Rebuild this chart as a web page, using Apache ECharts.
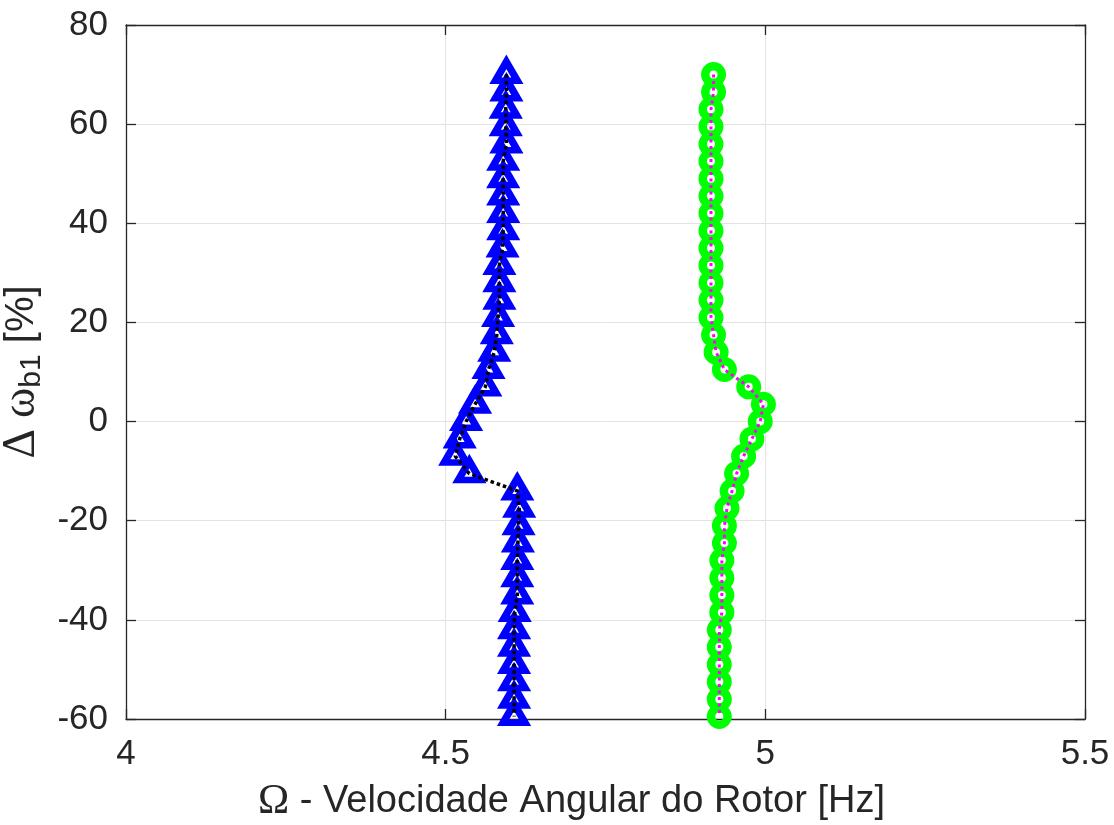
<!DOCTYPE html>
<html>
<head>
<meta charset="utf-8">
<script src="https://cdn.jsdelivr.net/npm/echarts@6/dist/echarts.min.js"></script>
<style>
  html, body { margin: 0; padding: 0; background: #fff; }
  #chart { width: 1114px; height: 825px; }
</style>
</head>
<body>
<div id="chart"></div>
<script>
// Δω_b1 [%] sweep (shared by both curves)
const omegaB1 = [70, 66.5, 63, 59.5, 56, 52.5, 49, 45.5, 42, 38.5, 35, 31.5, 28, 24.5, 21,
  17.5, 14, 10.5, 7, 3.5, 0, -3.5, -7, -10.5, -14, -17.5, -21, -24.5, -28, -31.5, -35,
  -38.5, -42, -45.5, -49, -52.5, -56, -59.5];

// Rotor angular speed [Hz], triangle curve
const rotorSpeedA = [4.595, 4.595, 4.594, 4.594, 4.595, 4.590, 4.590, 4.590, 4.590, 4.590,
  4.589, 4.584, 4.584, 4.584, 4.582, 4.580, 4.576, 4.567, 4.562, 4.546, 4.532, 4.522,
  4.515, 4.537, 4.612, 4.615, 4.614, 4.613, 4.612, 4.612, 4.612, 4.608, 4.607, 4.607,
  4.607, 4.607, 4.607, 4.607];

// Rotor angular speed [Hz], circle curve
const rotorSpeedB = [4.919, 4.919, 4.915, 4.915, 4.915, 4.915, 4.915, 4.915, 4.915, 4.915,
  4.915, 4.915, 4.915, 4.915, 4.915, 4.919, 4.923, 4.936, 4.974, 4.997, 4.992, 4.979,
  4.966, 4.955, 4.948, 4.940, 4.936, 4.936, 4.932, 4.932, 4.932, 4.932, 4.928, 4.928,
  4.928, 4.928, 4.928, 4.928];

const xTickLabels = ['4', '4.5', '5', '5.5'];
const yTickLabels = ['-60', '-40', '-20', '0', '20', '40', '60', '80'];

const xMin = Number(xTickLabels[0]);
const xMax = Number(xTickLabels[xTickLabels.length - 1]);
const xStep = Number(xTickLabels[1]) - xMin;
const yMin = Number(yTickLabels[0]);
const yMax = Number(yTickLabels[yTickLabels.length - 1]);
const yStep = Number(yTickLabels[1]) - yMin;

const pairsA = omegaB1.map((y, i) => [rotorSpeedA[i], y]);
const pairsB = omegaB1.map((y, i) => [rotorSpeedB[i], y]);

const AXIS = '#262626';
const GRID = '#e3e3e3';
const SANS = "'Liberation Sans', Arial, Helvetica, sans-serif";
const SERIF = "'Liberation Serif', 'DejaVu Serif', serif";

const axisLine = { show: true, onZero: false, lineStyle: { color: AXIS, width: 1.3 } };
const axisTick = { show: true, inside: true, length: 10, lineStyle: { color: AXIS, width: 1.3 } };

const chart = echarts.init(document.getElementById('chart'), null, { renderer: 'canvas' });

chart.setOption({
  backgroundColor: '#ffffff',
  animation: false,
  grid: { left: 126, right: 29, top: 25, bottom: 106, containLabel: false, outerBoundsMode: 'none' },
  xAxis: [
    {
      type: 'value', position: 'bottom', min: xMin, max: xMax, interval: xStep,
      axisLine, axisTick,
      axisLabel: { show: true, margin: 18, color: AXIS, fontFamily: SANS, fontSize: 35,
        formatter: v => xTickLabels[Math.round((v - xMin) / xStep)] },
      splitLine: { show: true, lineStyle: { color: GRID, width: 1 } },
      name: '{g|Ω}{n| - Velocidade Angular do Rotor [Hz]}',
      nameLocation: 'middle', nameGap: 62,
      nameTextStyle: {
        color: AXIS, padding: [0, 68, 0, 0],
        rich: {
          g: { fontFamily: SERIF, fontSize: 42, color: AXIS },
          n: { fontFamily: SANS, fontSize: 38, color: AXIS }
        }
      }
    },
    {
      type: 'value', position: 'top', min: xMin, max: xMax, interval: xStep,
      axisLine, axisTick, axisLabel: { show: false }, splitLine: { show: false }
    }
  ],
  yAxis: [
    {
      type: 'value', position: 'left', min: yMin, max: yMax, interval: yStep,
      axisLine, axisTick,
      axisLabel: { show: true, margin: 18, color: AXIS, fontFamily: SANS, fontSize: 35,
        formatter: v => yTickLabels[Math.round((v - yMin) / yStep)] },
      splitLine: { show: true, lineStyle: { color: GRID, width: 1 } },
      name: '{g|Δ}{n| }{g|ω}{s|b1}{n| [%]}',
      nameLocation: 'middle', nameGap: 66, nameRotate: 90,
      nameTextStyle: {
        color: AXIS,
        rich: {
          g: { fontFamily: SERIF, fontSize: 46, lineHeight: 50, color: AXIS },
          n: { fontFamily: SANS, fontSize: 40, lineHeight: 50, color: AXIS },
          s: { fontFamily: SANS, fontSize: 30, lineHeight: 16, verticalAlign: 'bottom', color: AXIS }
        }
      }
    },
    {
      type: 'value', position: 'right', min: yMin, max: yMax, interval: yStep,
      axisLine, axisTick, axisLabel: { show: false }, splitLine: { show: false }
    }
  ],
  series: [
    {
      // open triangles
      type: 'scatter', z: 2, data: pairsA,
      symbol: 'triangle', symbolSize: [22, 19], symbolOffset: [0, -3.2],
      itemStyle: { color: 'rgba(0,0,0,0)', borderColor: '#0000ff', borderWidth: 7,
        borderJoin: 'miter', borderMiterLimit: 10, opacity: 1 }
    },
    {
      // dotted black trace through the triangles
      type: 'line', z: 3, data: pairsA, showSymbol: false, symbol: 'none',
      lineStyle: { color: '#000000', width: 3.5, type: [3.5, 3], opacity: 1 }
    },
    {
      // open circles
      type: 'scatter', z: 4, data: pairsB,
      symbol: 'circle', symbolSize: 16.5,
      itemStyle: { color: 'rgba(0,0,0,0)', borderColor: '#00ff00', borderWidth: 8.5, opacity: 1 }
    },
    {
      // dotted magenta trace through the circles
      type: 'line', z: 5, data: pairsB, showSymbol: false, symbol: 'none',
      lineStyle: { color: '#ff00ff', width: 3, type: [3, 3.5], opacity: 1 }
    }
  ]
});
</script>
</body>
</html>
